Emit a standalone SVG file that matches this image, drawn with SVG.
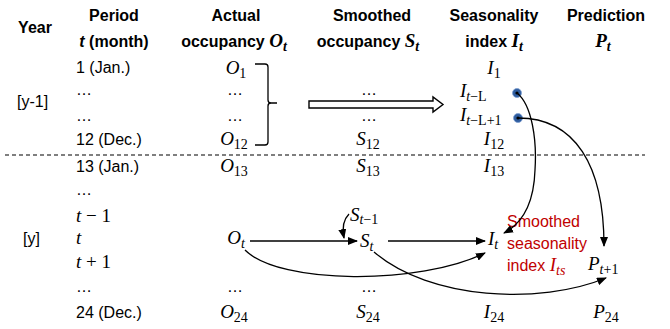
<svg xmlns="http://www.w3.org/2000/svg" width="670" height="329" viewBox="0 0 670 329">
<defs>
<style>
.h{font-family:"Liberation Sans",Arial,sans-serif;font-size:16px;font-weight:bold;text-anchor:middle;fill:#000}
.t{font-family:"Liberation Sans",Arial,sans-serif;font-size:16px;fill:#000}
.m{font-family:"Liberation Serif","Times New Roman",serif;font-style:italic;font-size:19px;fill:#000}
.c{text-anchor:middle}
.s{font-size:14px}
.u{font-style:normal}
.red{fill:#C00000}
.ln{fill:none;stroke:#000;stroke-width:1.3}
.dot{fill:#2E5C9E;stroke:#7FA0D0;stroke-width:0.8}
</style>
<marker id="ah" markerWidth="10" markerHeight="8" refX="9" refY="4" orient="auto" markerUnits="userSpaceOnUse">
<path d="M0,0 L10,4 L0,8 Z" fill="#000"/>
</marker>
</defs>
<rect width="670" height="329" fill="#fff"/>

<g id="headers">
<text class="h" x="35" y="33">Year</text>
<text class="h" x="114" y="21">Period</text>
<text class="h" x="114" y="47"><tspan font-style="italic">t</tspan> (month)</text>
<text class="h" x="236" y="21">Actual</text>
<text class="h" x="234" y="47">occupancy <tspan class="m" font-weight="bold">O</tspan><tspan class="m s" font-weight="bold" dy="4">t</tspan></text>
<text class="h" x="372" y="21">Smoothed</text>
<text class="h" x="368" y="47">occupancy <tspan class="m" font-weight="bold">S</tspan><tspan class="m s" font-weight="bold" dy="4">t</tspan></text>
<text class="h" x="494" y="21">Seasonality</text>
<text class="h" x="494" y="47">index <tspan class="m" font-weight="bold">I</tspan><tspan class="m s" font-weight="bold" dy="4">t</tspan></text>
<text class="h" x="606" y="21">Prediction</text>
<text class="h" x="603" y="47"><tspan class="m" font-weight="bold">P</tspan><tspan class="m s" font-weight="bold" dy="4">t</tspan></text>
</g>

<g id="year-labels">
<text class="t" x="17" y="107">[y-1]</text>
<text class="t" x="23" y="244">[y]</text>
</g>

<g id="period-column">
<text class="t" x="76" y="73">1 (Jan.)</text>
<text class="t" x="76" y="95">…</text>
<text class="t" x="76" y="121">…</text>
<text class="t" x="76" y="145">12 (Dec.)</text>
<text class="t" x="76" y="172">13 (Jan.)</text>
<text class="t" x="76" y="195">…</text>
<text class="m" x="76" y="222">t<tspan class="u"> − 1</tspan></text>
<text class="m" x="76" y="244">t</text>
<text class="m" x="76" y="268">t<tspan class="u"> + 1</tspan></text>
<text class="t" x="76" y="292">…</text>
<text class="t" x="76" y="318">24 (Dec.)</text>
</g>

<g id="actual-column">
<text class="m c" x="236" y="74">O<tspan class="s u" dy="4">1</tspan></text>
<text class="t c" x="235" y="95">…</text>
<text class="t c" x="235" y="121">…</text>
<text class="m c" x="234" y="145">O<tspan class="s u" dy="4">12</tspan></text>
<text class="m c" x="234" y="172">O<tspan class="s u" dy="4">13</tspan></text>
<g id="node-Ot"><text class="m c" x="236" y="244">O<tspan class="s" dy="4">t</tspan></text></g>
<text class="t c" x="235" y="292">…</text>
<text class="m c" x="234" y="318">O<tspan class="s u" dy="4">24</tspan></text>
</g>

<g id="bracket">
<path class="ln" d="M255,64 H265 Q268,64 268,67 V100 Q268,103 271,103 H277 M271,103 Q268,103 268,106 V142 Q268,145 265,145 H255"/>
</g>

<g id="hollow-arrow">
<path d="M309,101 L433,101 L433,97 L443,104.5 L433,112 L433,108 L309,108 Z" fill="#fff" stroke="#000" stroke-width="1.4"/>
</g>

<g id="smoothed-column">
<text class="t c" x="369" y="95">…</text>
<text class="t c" x="369" y="121">…</text>
<text class="m c" x="368" y="145">S<tspan class="s u" dy="4">12</tspan></text>
<text class="m c" x="368" y="172">S<tspan class="s u" dy="4">13</tspan></text>
<g id="node-St-1"><text class="m" x="350" y="221">S<tspan class="s" dy="3">t<tspan class="u">−1</tspan></tspan></text></g>
<g id="node-St"><text class="m" x="360" y="247">S<tspan class="s" dy="4">t</tspan></text></g>
<text class="t c" x="369" y="292">…</text>
<text class="m c" x="368" y="318">S<tspan class="s u" dy="4">24</tspan></text>
</g>

<g id="seasonality-column">
<text class="m c" x="494" y="74">I<tspan class="s u" dy="4">1</tspan></text>
<g id="node-ItL"><text class="m" x="460" y="97">I<tspan class="s" dy="4">t<tspan class="u">−L</tspan></tspan></text>
<circle class="dot" cx="517" cy="93" r="4.5"/><circle cx="517" cy="93" r="1.6" fill="#000"/></g>
<g id="node-ItL1"><text class="m" x="460" y="121">I<tspan class="s" dy="4">t<tspan class="u">−L+1</tspan></tspan></text>
<circle class="dot" cx="518" cy="118" r="4.5"/><circle cx="518" cy="118" r="1.6" fill="#000"/></g>
<text class="m c" x="494" y="145">I<tspan class="s u" dy="4">12</tspan></text>
<text class="m c" x="494" y="172">I<tspan class="s u" dy="4">13</tspan></text>
<g id="node-It"><text class="m c" x="493" y="245">I<tspan class="s" dy="4">t</tspan></text></g>
<text class="m c" x="494" y="318">I<tspan class="s u" dy="4">24</tspan></text>
</g>

<g id="smoothed-index-label">
<text class="t red" x="507" y="227">Smoothed</text>
<text class="t red" x="507" y="249">seasonality</text>
<text class="t red" x="507" y="271">index <tspan class="m red">I</tspan><tspan class="m s red" dy="4">ts</tspan></text>
</g>

<g id="prediction-column">
<g id="node-Pt1"><text class="m" x="588" y="270">P<tspan class="s" dy="4">t<tspan class="u">+1</tspan></tspan></text></g>
<text class="m c" x="606" y="318">P<tspan class="s u" dy="4">24</tspan></text>
</g>

<g id="divider">
<line x1="5" y1="155" x2="645" y2="155" stroke="#000" stroke-width="1.2" stroke-dasharray="4 3"/>
</g>

<g id="connectors">
<path class="ln" d="M250,241 L357,241" marker-end="url(#ah)"/>
<path class="ln" d="M349,214 C343,220 342,228 344,238" marker-end="url(#ah)"/>
<path class="ln" d="M388,241 L485,241" marker-end="url(#ah)"/>
<path class="ln" d="M245,250 C280,285 420,285 485,253" marker-end="url(#ah)"/>
<path class="ln" d="M374,252 C430,300 540,305 606,278" marker-end="url(#ah)"/>
<path class="ln" d="M517,93 C532,105 537,140 535,170 C534,200 525,222 504,233" marker-end="url(#ah)"/>
<path class="ln" d="M518,118 C575,118 604,165 604,246" marker-end="url(#ah)"/>
</g>
</svg>
